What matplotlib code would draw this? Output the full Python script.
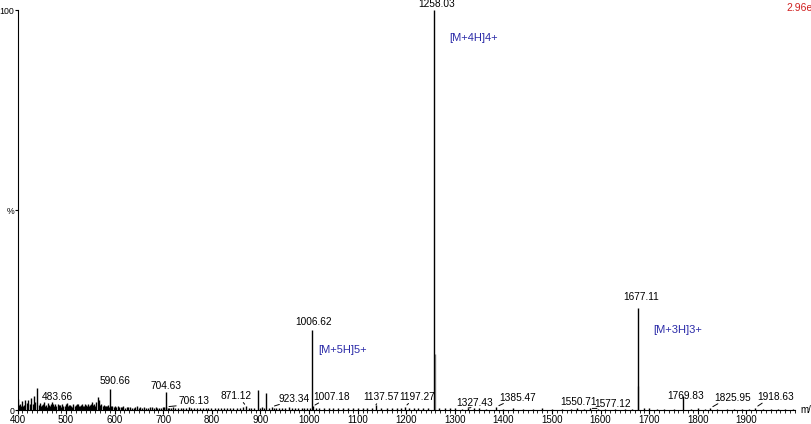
import matplotlib.pyplot as plt
from matplotlib.ticker import MultipleLocator, FixedLocator
import numpy as np

plt.rcParams['font.family'] = ['Liberation Sans', 'DejaVu Sans']

# labelled peaks: m/z, relative intensity (%)
peak_mz = [483.66, 590.66, 704.63, 706.13, 871.12, 923.34, 1006.62, 1007.18,
           1137.57, 1197.27, 1258.03, 1327.43, 1385.47, 1550.71, 1577.12,
           1677.11, 1769.83, 1825.95, 1918.63]
peak_int = [1.4, 5.2, 4.4, 0.8, 0.9, 0.8, 20.0, 0.9,
            1.3, 0.8, 100.0, 0.5, 0.8, 0.4, 0.4,
            25.5, 3.4, 0.5, 0.6]

# unlabelled peaks and baseline noise, (m/z, %)
noise = [
    (401, 2.8), (403, 1.2), (405, 1.5), (407, 0.9), (409, 2.2), (411, 1.0),
    (413, 1.2), (416, 2.6), (419, 1.8), (422, 2.4), (425, 1.4), (428, 3.0),
    (431, 1.6), (434, 3.4), (437, 2.0), (441, 5.6), (444, 1.3), (446, 1.8),
    (448, 0.9), (450, 1.2), (452, 1.6), (454, 2.0), (456, 1.1), (458, 1.3),
    (460, 0.8), (462, 1.7), (464, 1.2), (466, 1.1), (468, 1.5), (470, 1.9),
    (472, 1.0), (474, 1.4), (476, 0.9), (478, 1.6), (480, 1.1), (486, 1.3),
    (488, 1.2), (490, 0.8), (492, 1.5), (494, 1.1), (497, 1.0), (499, 1.4),
    (501, 1.8), (504, 0.9), (506, 1.3), (509, 1.2), (511, 1.1), (513, 0.8),
    (515, 1.6), (518, 1.0), (520, 1.2), (522, 1.4), (524, 1.4), (526, 0.9),
    (528, 1.0), (531, 1.3), (533, 1.5), (535, 1.0), (537, 1.1), (539, 1.4),
    (541, 1.3), (544, 0.9), (546, 1.6), (548, 1.1), (550, 1.2), (552, 1.5),
    (554, 1.9), (556, 1.2), (558, 1.4), (560, 1.0), (562, 2.1), (565, 3.2),
    (568, 2.6), (570, 1.3), (572, 1.4), (575, 1.0), (577, 1.2), (580, 0.9),
    (582, 1.0), (584, 1.1), (586, 1.3), (588, 0.8), (593, 1.0), (595, 1.1),
    (598, 0.8), (600, 0.9), (603, 0.7), (606, 1.0), (609, 0.8), (612, 0.8),
    (615, 0.7), (618, 0.9), (622, 0.6), (625, 0.7), (628, 0.8), (632, 0.8),
    (636, 0.6), (639, 0.6), (642, 0.7), (646, 0.9), (650, 0.6), (653, 0.7),
    (657, 0.5), (660, 0.8), (664, 0.6), (668, 0.6), (672, 0.7), (676, 0.7),
    (680, 0.5), (684, 0.8), (688, 0.6), (692, 0.6), (696, 0.5), (699, 0.7),
    (702, 0.8), (709, 0.6), (712, 0.6), (716, 0.5), (720, 0.7), (725, 0.6),
    (730, 0.5), (736, 0.6), (741, 0.6), (746, 0.5), (752, 0.7), (758, 0.5),
    (763, 0.5), (769, 0.6), (775, 0.6), (781, 0.5), (787, 0.5), (793, 0.6),
    (799, 0.6), (806, 0.5), (812, 0.5), (818, 0.6), (825, 0.6), (831, 0.5),
    (838, 0.5), (844, 0.6), (851, 0.6), (857, 0.5), (864, 0.7), (876, 0.6),
    (880, 0.6), (886, 0.5), (895, 5.0), (899, 0.6), (903, 0.8), (908, 0.6),
    (912, 4.2), (917, 0.6), (928, 0.6), (932, 0.5), (938, 0.5), (945, 0.5),
    (951, 0.6), (958, 0.7), (965, 0.5), (972, 0.5), (978, 0.4), (985, 0.6),
    (990, 0.5), (995, 0.5), (1001, 0.5), (1014, 0.4), (1020, 0.5), (1030, 0.4),
    (1040, 0.4), (1050, 0.5), (1060, 0.5), (1070, 0.4), (1080, 0.4), (1090, 0.5),
    (1100, 0.4), (1110, 0.4), (1120, 0.4), (1130, 0.5), (1148, 0.4), (1160, 0.4),
    (1170, 0.5), (1180, 0.4), (1190, 0.4), (1205, 0.5), (1215, 0.4), (1225, 0.5),
    (1235, 0.4), (1245, 0.4), (1258.3, 14.0), (1268, 0.4), (1280, 0.4),
    (1290, 0.4), (1300, 0.4), (1315, 0.3), (1340, 0.4), (1350, 0.4), (1365, 0.3),
    (1400, 0.3), (1420, 0.4), (1440, 0.3), (1460, 0.3), (1480, 0.4), (1500, 0.3),
    (1520, 0.3), (1540, 0.3), (1565, 0.3), (1595, 0.3), (1610, 0.3), (1630, 0.3),
    (1650, 0.3), (1665, 0.3), (1677.4, 6.0), (1690, 0.4), (1700, 0.4),
    (1715, 0.3), (1730, 0.3), (1750, 0.3), (1785, 0.3), (1800, 0.4), (1815, 0.3),
    (1840, 0.3), (1860, 0.3), (1875, 0.3), (1890, 0.3), (1905, 0.3), (1935, 0.3),
    (1950, 0.3), (1965, 0.3), (1980, 0.3), (1995, 0.3),
]
noise_mz = [m for m, _ in noise]
noise_int = [h for _, h in noise]

# text positions for the peak labels (m/z centre, % baseline)
label_pos = [(482, 2.0), (601, 6.0), (706, 4.8), (764, 1.0), (849, 2.3), (970, 1.5),
             (1009, 20.8), (1046, 2.0), (1149, 2.0), (1223, 2.0), (1262, 100.3),
             (1340, 0.5), (1429, 1.8), (1554, 0.8), (1624, 0.3), (1684, 27.0),
             (1774, 2.3), (1871, 1.8), (1960, 2.0)]
leader = [False, False, False, True, True, True, False, True, True, True, False,
          True, True, False, True, False, False, True, True]

ions = ["[M+4H]4+", "[M+5H]5+", "[M+3H]3+"]
ion_pos = [(1289, 93), (1019, 15), (1709, 20)]

fig = plt.figure(figsize=(8.11, 4.24), dpi=100)
ax = fig.add_axes([17.5 / 811, 14 / 424, 777.5 / 811, 400 / 424])

all_mz = np.array(noise_mz + peak_mz)
all_int = np.array(noise_int + peak_int)
colors = ['#888888' if m in (1258.3, 1677.4) else 'black' for m in all_mz]
ax.vlines(all_mz, 0, all_int, colors=colors, linewidth=1.0)

for mz, h, (tx, ty), ld in zip(peak_mz, peak_int, label_pos, leader):
    ax.text(tx, ty, f"{mz:.2f}", ha='center', va='bottom', fontsize=7.3,
            clip_on=False)
    if ld:
        # short leader from the peak to the label
        ax.annotate("", xy=(mz, h), xytext=(tx - (tx - mz) * 0.55 if tx > mz else tx + 12, ty + 0.1),
                    arrowprops=dict(arrowstyle='-', color='black', lw=0.7))

for name, (x, y) in zip(ions, ion_pos):
    ax.text(x, y, name, color='#2a2aa8', fontsize=8, ha='left', va='center')

ax.set_xlim(400, 2000)
ax.set_ylim(0, 100)
ax.spines['top'].set_visible(False)
ax.spines['right'].set_visible(False)
ax.xaxis.set_major_locator(FixedLocator(np.arange(400, 2000, 100)))
ax.xaxis.set_minor_locator(MultipleLocator(10))
ax.tick_params(axis='x', which='major', length=3, labelsize=7, pad=0.5)
ax.tick_params(axis='x', which='minor', length=2)
ax.set_yticks([0, 50, 100])
ax.set_yticklabels(['0', '%', '100'])
ax.tick_params(axis='y', length=2, labelsize=6.3, pad=0.3)

fig.text(800 / 811, 1 - 410 / 424, "m/z", fontsize=7, ha='left', va='center')
fig.text(786 / 811, 1 - 8 / 424, "2.96e7", fontsize=7.5, color='#d02020',
         ha='left', va='center')

fig.savefig("out.png", dpi=100)
